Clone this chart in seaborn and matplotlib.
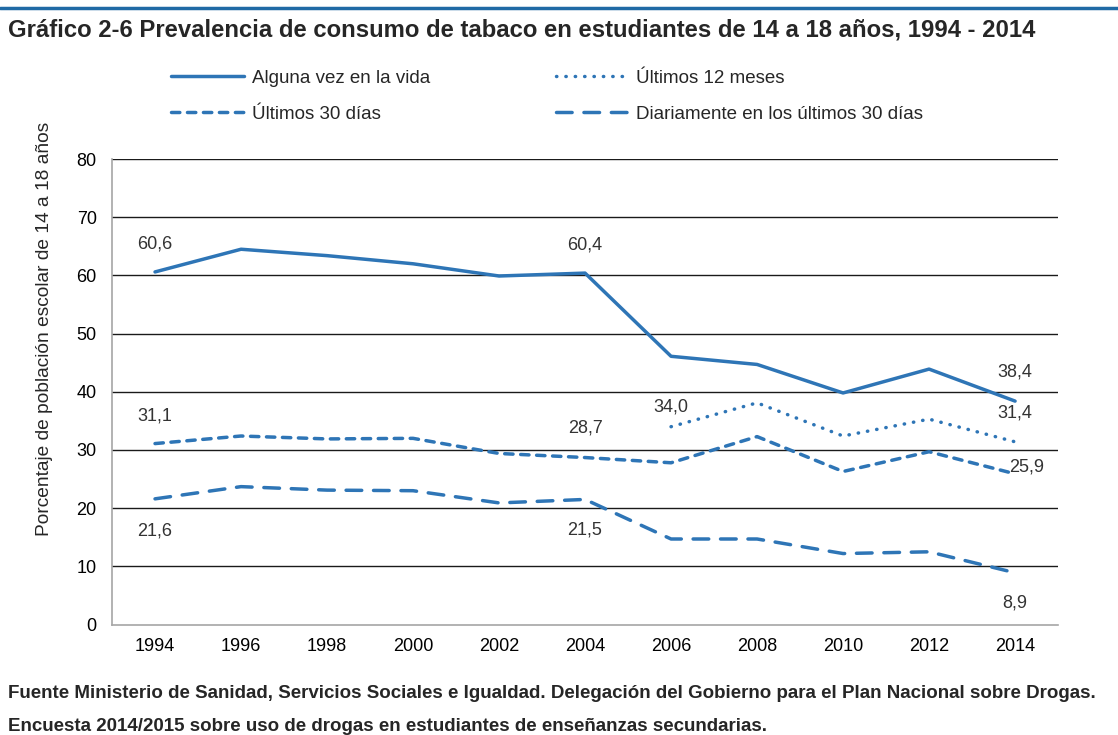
import matplotlib
matplotlib.use("Agg")
import matplotlib.pyplot as plt
import seaborn as sns
import pandas as pd

# data
years = [1994, 1996, 1998, 2000, 2002, 2004, 2006, 2008, 2010, 2012, 2014]
alguna_vez = [60.6, 64.5, 63.4, 62.0, 59.9, 60.4, 46.1, 44.7, 39.8, 43.9, 38.4]
years_12m = [2006, 2008, 2010, 2012, 2014]
ultimos_12m = [34.0, 38.1, 32.4, 35.3, 31.4]
ultimos_30d = [31.1, 32.4, 31.9, 32.0, 29.4, 28.7, 27.8, 32.3, 26.3, 29.7, 25.9]
diario_30d = [21.6, 23.7, 23.1, 23.0, 20.9, 21.5, 14.7, 14.7, 12.2, 12.5, 8.9]

series_names = ["Alguna vez en la vida", "Últimos 12 meses",
                "Últimos 30 días", "Diariamente en los últimos 30 días"]
y_ticks = [0, 10, 20, 30, 40, 50, 60, 70, 80]

title = "Gráfico 2-6 Prevalencia de consumo de tabaco en estudiantes de 14 a 18 años, 1994 - 2014"
y_label = "Porcentaje de población escolar de 14 a 18 años"
source_1 = "Fuente Ministerio de Sanidad, Servicios Sociales e Igualdad. Delegación del Gobierno para el Plan Nacional sobre Drogas."
source_2 = "Encuesta 2014/2015 sobre uso de drogas en estudiantes de enseñanzas secundarias."

sns.set_style("white")
plt.rcParams["font.family"] = ["Liberation Sans", "DejaVu Sans"]

blue = "#2e75b6"

fig = plt.figure(figsize=(11.18, 7.35), dpi=100)
ax = fig.add_axes([0.1002, 0.1503, 0.8462, 0.6333])

styles = {
    series_names[0]: dict(linestyle="-"),
    series_names[1]: dict(linestyle=(0, (0.1, 2.6)), dash_capstyle="round"),
    series_names[2]: dict(linestyle=(0, (2.4, 2.2)), dash_capstyle="round"),
    series_names[3]: dict(linestyle=(0, (4.5, 3.4)), dash_capstyle="round"),
}

frames = {
    series_names[0]: (years, alguna_vez),
    series_names[1]: (years_12m, ultimos_12m),
    series_names[2]: (years, ultimos_30d),
    series_names[3]: (years, diario_30d),
}

for name, (xs, ys) in frames.items():
    df = pd.DataFrame({"year": xs, "value": ys})
    sns.lineplot(data=df, x="year", y="value", ax=ax, color=blue,
                 linewidth=2.5, label=name, **styles[name])

# data labels: (x values, y values, year, dy pt, dx pt)
labels = [
    (years, alguna_vez, 1994, 20, 0), (years, alguna_vez, 2004, 20, 0),
    (years, alguna_vez, 2014, 21, 0),
    (years_12m, ultimos_12m, 2006, 14.5, 0), (years_12m, ultimos_12m, 2014, 21, 0),
    (years, ultimos_30d, 1994, 20, 0), (years, ultimos_30d, 2004, 21, 0),
    (years, ultimos_30d, 2014, 5, 8),
    (years, diario_30d, 1994, -23, 0), (years, diario_30d, 2004, -22, 0),
    (years, diario_30d, 2014, -22, 0),
]
for xs, ys, yr, dy, dx in labels:
    v = ys[xs.index(yr)]
    ax.annotate(f"{v:.1f}".replace(".", ","), (yr, v), xytext=(dx, dy),
                textcoords="offset points", ha="center", va="center",
                fontsize=13, color="#333333")

ax.set_xlim(1993, 2015)
ax.set_ylim(0, 80)
ax.set_xticks(years)
ax.set_yticks(y_ticks)
ax.tick_params(axis="both", length=0, labelsize=13, colors="black")
ax.tick_params(axis="x", pad=10)
ax.tick_params(axis="y", pad=11)
ax.set_xlabel("")
ax.set_ylabel("")
for t in y_ticks[1:]:
    ax.axhline(t, color="#1a1a1a", linewidth=1.0, zorder=0)
for s in ["top", "right"]:
    ax.spines[s].set_visible(False)
for s in ["left", "bottom"]:
    ax.spines[s].set_color("#a6a6a6")
    ax.spines[s].set_linewidth(1.2)

handles, labs = ax.get_legend_handles_labels()
ax.get_legend().remove()
order = [0, 2, 1, 3]
fig.legend([handles[i] for i in order], [labs[i] for i in order], ncol=2,
           loc="center left", bbox_to_anchor=(0.138, 0.869), frameon=False,
           fontsize=13.5, handlelength=3.9, handletextpad=0.4,
           columnspacing=6.7, labelspacing=1.0)

fig.text(0.04, 0.553, y_label, rotation=90, ha="center", va="center", fontsize=13.8)

fig.add_artist(plt.Line2D([0, 1], [0.989, 0.989], color="#1f6aa5", linewidth=2.5))
fig.text(0.007, 0.959, title, ha="left", va="center", fontsize=17.2, fontweight="bold")
fig.text(0.007, 0.057, source_1, ha="left", va="center", fontsize=13.5, fontweight="bold")
fig.text(0.007, 0.012, source_2, ha="left", va="center", fontsize=13.5, fontweight="bold")

fig.savefig("out.png", dpi=100)
